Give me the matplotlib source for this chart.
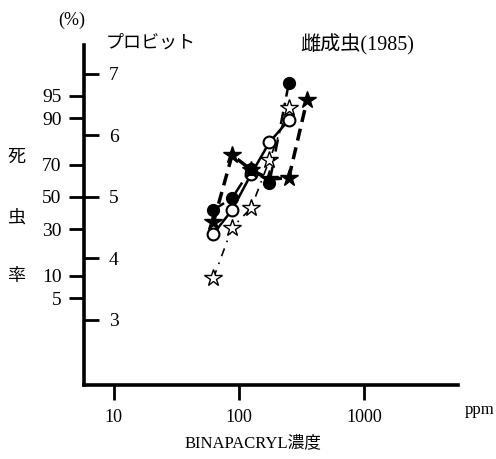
import numpy as np
import matplotlib
matplotlib.use('Agg')
from matplotlib import pyplot as plt
from statistics import NormalDist

# 濃度 (ppm)
conc = [62.5, 88, 125, 175, 250]
conc_star = [62.5, 88, 125, 175, 250, 350]
# プロビット値
open_circle = [4.40, 4.79, 5.37, 5.89, 6.25]
filled_circle = [4.79, 4.98, 5.46, 5.23, 6.85]
filled_star = [4.59, 5.68, 5.44, 5.29, 5.31, 6.58]
open_star = [3.68, 4.50, 4.82, 5.60, 6.45]

pct_ticks = [5, 10, 30, 50, 70, 90, 95]
probit_ticks = [3, 4, 5, 6, 7]
x_ticks = [10, 100, 1000]

def pct_to_probit(p):
    return 5 + NormalDist().inv_cdf(p / 100.0)

plt.rcParams['font.family'] = ['Liberation Serif', 'Noto Sans CJK JP']

fig = plt.figure(figsize=(4.96, 4.59), dpi=100)
ax = fig.add_axes([0.169, 0.161, 0.754, 0.741])

ax.plot(conc, open_circle, '-', color='k', lw=1.8,
        marker='o', ms=8.5, mfc='white', mec='k', mew=1.5, zorder=3)
ax.plot(conc, filled_circle, color='k', lw=1.8, dashes=(5, 2.5, 1.2, 2.5),
        marker='o', ms=8.5, mfc='k', mec='k', zorder=4)
ax.plot(conc_star, filled_star, color='k', lw=2.5, dashes=(3.5, 2),
        marker='*', ms=13, mfc='k', mec='k', zorder=4)
ax.plot(conc, open_star, color='k', lw=1.2, dashes=(5, 4, 1, 4),
        marker='*', ms=13, mfc='white', mec='k', mew=1.0, zorder=3)

ax.set_xscale('log')
ax.set_xlim(5.75, 5600)
ax.set_ylim(1.94, 7.47)

for s in ['top', 'right']:
    ax.spines[s].set_visible(False)
ax.spines['left'].set_linewidth(2.6)
ax.spines['bottom'].set_linewidth(2.6)

ax.set_xticks(x_ticks)
ax.set_xticklabels([str(x) for x in x_ticks])
ax.xaxis.set_minor_locator(matplotlib.ticker.NullLocator())
ax.tick_params(axis='x', direction='out', length=11, width=2, pad=6, labelsize=13)

# プロビット目盛 (内側、右にラベル)
ax.yaxis.remove_overlapping_locs = False
ax.set_yticks(probit_ticks)
ax.set_yticklabels([str(p) for p in probit_ticks])
ax.tick_params(axis='y', which='major', direction='in', length=11, width=2,
               pad=-25, labelsize=14)
# 死虫率目盛 (外側、左にラベル)
ax.set_yticks([pct_to_probit(p) for p in pct_ticks], minor=True)
ax.set_yticklabels([str(p) for p in pct_ticks], minor=True)
ax.tick_params(axis='y', which='minor', direction='out', length=11, width=2,
               pad=5, labelsize=14)

fig.text(72 / 496, 1 - 20 / 459, '(%)', ha='center', va='center', fontsize=13)
fig.text(106 / 496, 1 - 43 / 459, 'プロビット', ha='left', va='center', fontsize=13)
fig.text(300 / 496, 1 - 45 / 459, '雌成虫(1985)', ha='left', va='center', fontsize=14.5)
for ch, y in zip('死虫率', [157, 218, 277]):
    fig.text(16 / 496, 1 - y / 459, ch, ha='center', va='center', fontsize=13)
fig.text(480 / 496, 1 - 410 / 459, 'ppm', ha='center', va='center', fontsize=12)
fig.text(253 / 496, 1 - 443 / 459, 'BINAPACRYL濃度', ha='center', va='center', fontsize=12)

fig.savefig('out.png', dpi=100)
